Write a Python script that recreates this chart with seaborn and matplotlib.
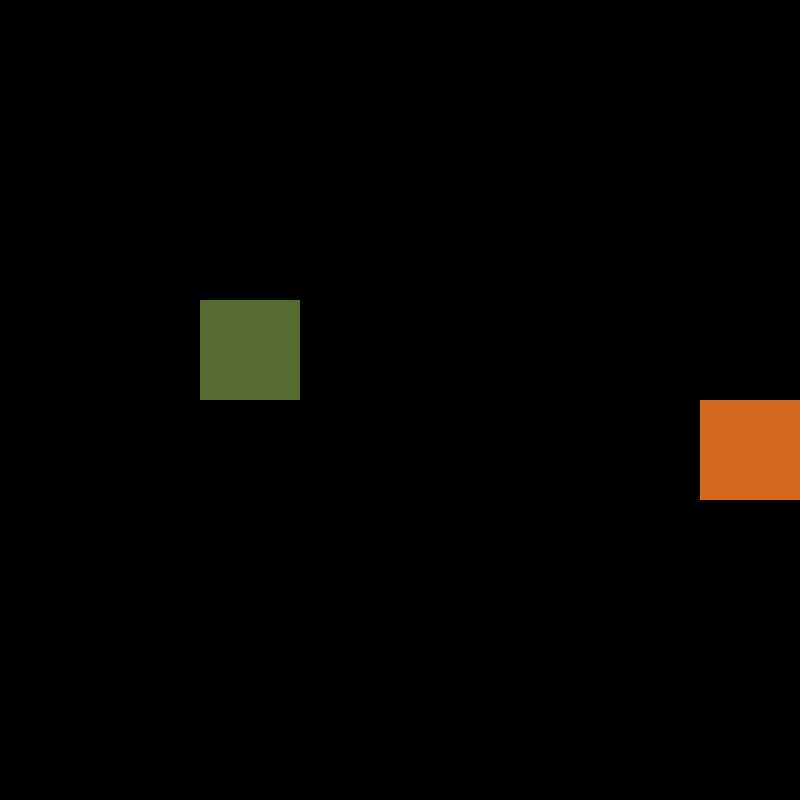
import numpy as np
import matplotlib
matplotlib.use("Agg")
import matplotlib.pyplot as plt
import seaborn as sns
from matplotlib.colors import ListedColormap

# 8x8 board: 0 = empty, 1 = green cell, 2 = orange cell
grid_rows = 8
grid_cols = 8
cell_rows = [3, 4]
cell_cols = [2, 7]
cell_kinds = [1, 2]
palette = ["#000000", "#556b2f", "#d2691e"]

board = np.zeros((grid_rows, grid_cols), dtype=int)
for r, c, k in zip(cell_rows, cell_cols, cell_kinds):
    board[r, c] = k

fig = plt.figure(figsize=(8, 8), dpi=100, facecolor="black")
ax = fig.add_axes([0, 0, 1, 1])
sns.heatmap(board, ax=ax, cmap=ListedColormap(palette), vmin=-0.5, vmax=2.5,
            cbar=False, xticklabels=False, yticklabels=False, linewidths=0)
ax.set_axis_off()

fig.savefig("out.png", dpi=100, facecolor="black")
